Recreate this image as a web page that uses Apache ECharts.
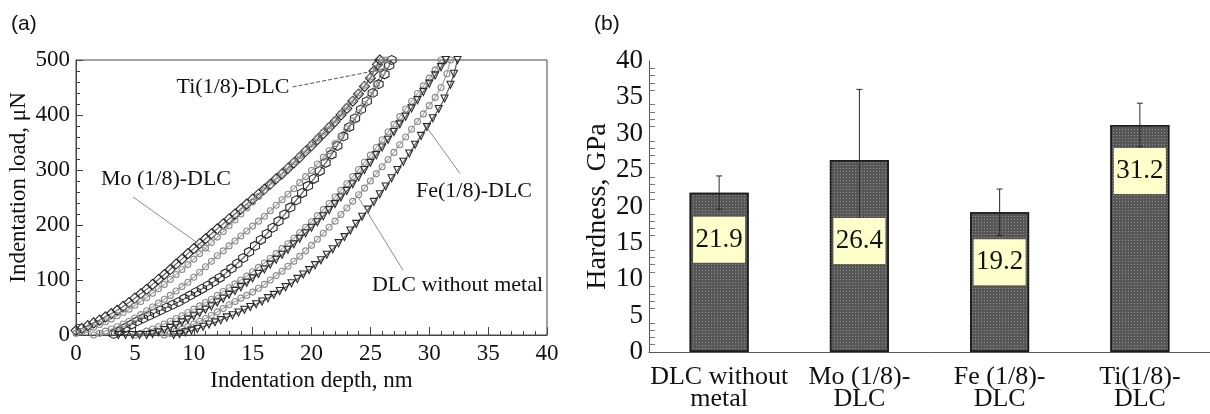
<!DOCTYPE html>
<html>
<head>
<meta charset="utf-8">
<script src="https://cdn.jsdelivr.net/npm/echarts@6/dist/echarts.min.js"></script>
<style>
  html, body { margin: 0; padding: 0; background: #ffffff; }
  #chart { width: 1210px; height: 414px; }
</style>
</head>
<body>
<div id="chart"></div>
<script>
// ---------- (a) load–depth curves: [depth nm, load µN] ----------
const moLoading = [[0,8],[0.5,12],[1,17],[1.5,22],[2,27],[2.5,33],[3,39],[3.5,45],[4,52],[4.5,59],[5,67],[5.5,75],[6,83],[6.5,92],[7,101],[7.5,110],[8,119],[8.5,129],[9,138],[9.5,148],[10,157],[10.5,166],[11,175],[11.5,184],[12,193],[12.5,202],[13,211],[13.5,220],[14,229],[14.5,238],[15,247],[15.5,256],[16,265],[16.5,274],[17,284],[17.5,293],[18,303],[18.5,313],[19,323],[19.5,334],[20,344],[20.5,355],[21,366],[21.5,377],[22,388],[22.5,400],[23,412],[23.5,425],[24,438],[24.5,452],[25,467],[25.3,480],[25.6,492],[25.8,500]];
const moUnloading = [[0,3],[0.5,6],[1,10],[1.5,14],[2,19],[2.5,24],[3,29],[3.5,35],[4,41],[4.5,47],[5,54],[5.5,61],[6,68],[6.5,76],[7,84],[7.5,92],[8,101],[8.5,110],[9,119],[9.5,128],[10,138],[10.5,148],[11,158],[11.5,168],[12,178],[12.5,188],[13,199],[13.5,209],[14,220],[14.5,231],[15,242],[15.5,252],[16,263],[16.5,273],[17,284],[17.5,294],[18,305],[18.5,315],[19,326],[19.5,336],[20,347],[20.5,358],[21,369],[21.5,380],[22,391],[22.5,403],[23,415],[23.5,427],[24,440],[24.5,454],[25,469],[25.5,485],[26,500]];
const tiLoading = [[3.2,2],[3.7,7],[4.2,13],[4.7,19],[5.2,25],[5.7,30],[6.2,35],[6.7,40],[7.2,45],[7.7,50],[8.2,55],[8.7,60],[9.2,66],[9.7,72],[10.2,78],[10.7,84],[11.2,90],[11.7,97],[12.2,104],[12.7,112],[13.2,121],[13.7,130],[14.2,140],[14.7,151],[15.2,162],[15.7,173],[16.2,184],[16.7,195],[17.2,207],[17.7,219],[18.2,232],[18.7,245],[19.2,258],[19.7,271],[20.2,284],[20.7,298],[21.2,313],[21.7,328],[22.2,344],[22.7,361],[23.2,378],[23.7,394],[24.2,410],[24.7,425],[25.2,440],[25.7,456],[26.2,474],[26.6,490],[26.8,500]];
const tiUnloading = [[1.5,0],[2,3],[2.5,7],[3,11],[3.5,15],[4,20],[4.5,25],[5,31],[5.5,37],[6,44],[6.5,51],[7,58],[7.5,65],[8,72],[8.5,80],[9,88],[9.5,96],[10,105],[10.5,114],[11,124],[11.5,134],[12,144],[12.5,153],[13,162],[13.5,171],[14,180],[14.5,189],[15,198],[15.5,207],[16,216],[16.5,226],[17,236],[17.5,246],[18,256],[18.5,266],[19,277],[19.5,288],[20,299],[20.5,311],[21,323],[21.5,335],[22,348],[22.5,361],[23,375],[23.5,389],[24,404],[24.5,419],[25,436],[25.5,455],[26,478],[26.3,500]];
const dlcLoading = [[5,0],[5.5,3],[6,7],[6.5,11],[7,15],[7.5,20],[8,25],[8.5,30],[9,35],[9.5,41],[10,47],[10.5,53],[11,59],[11.5,65],[12,72],[12.5,79],[13,86],[13.5,93],[14,100],[14.5,107],[15,115],[15.5,123],[16,131],[16.5,139],[17,148],[17.5,157],[18,166],[18.5,176],[19,186],[19.5,196],[20,206],[20.5,217],[21,228],[21.5,239],[22,251],[22.5,263],[23,275],[23.5,288],[24,301],[24.5,314],[25,327],[25.5,341],[26,355],[26.5,369],[27,383],[27.5,397],[28,411],[28.5,425],[29,439],[29.5,453],[30,467],[30.5,482],[31,500]];
const dlcUnloading = [[7.5,0],[8,3],[8.5,7],[9,11],[9.5,15],[10,20],[10.5,25],[11,30],[11.5,36],[12,42],[12.5,48],[13,55],[13.5,61],[14,67],[14.5,72],[15,78],[15.5,85],[16,92],[16.5,100],[17,108],[17.5,116],[18,125],[18.5,134],[19,143],[19.5,153],[20,163],[20.5,174],[21,185],[21.5,196],[22,207],[22.5,219],[23,231],[23.5,243],[24,255],[24.5,267],[25,280],[25.5,293],[26,306],[26.5,319],[27,332],[27.5,346],[28,360],[28.5,374],[29,388],[29.5,402],[30,417],[30.5,432],[31,450],[31.5,475],[31.8,500]];
const feLoading = [[3.6,0],[4.2,0],[4.8,0],[5.4,0],[6,0],[6.5,2],[7,5],[7.5,9],[8,13],[8.5,18],[9,23],[9.5,28],[10,34],[10.5,40],[11,46],[11.5,52],[12,59],[12.5,66],[13,73],[13.5,80],[14,87],[14.5,95],[15,103],[15.5,111],[16,119],[16.5,128],[17,137],[17.5,146],[18,155],[18.5,165],[19,175],[19.5,185],[20,195],[20.5,205],[21,216],[21.5,227],[22,238],[22.5,250],[23,262],[23.5,274],[24,287],[24.5,300],[25,313],[25.5,327],[26,341],[26.5,355],[27,369],[27.5,383],[28,397],[28.5,412],[29,427],[29.5,442],[30,457],[30.5,472],[31,487],[31.4,500]];
const feUnloading = [[8.3,0],[8.8,2],[9.3,5],[9.8,8],[10.3,11],[10.8,15],[11.3,19],[11.8,23],[12.3,27],[12.8,32],[13.3,36],[13.8,41],[14.3,46],[14.8,51],[15.3,56],[15.8,61],[16.3,67],[16.8,73],[17.3,80],[17.8,87],[18.3,94],[18.8,102],[19.3,110],[19.8,118],[20.3,127],[20.8,136],[21.3,146],[21.8,156],[22.3,167],[22.8,178],[23.3,190],[23.8,202],[24.3,215],[24.8,228],[25.3,242],[25.8,256],[26.3,270],[26.8,285],[27.3,300],[27.8,315],[28.3,330],[28.8,346],[29.3,362],[29.8,378],[30.3,394],[30.8,411],[31.3,430],[31.8,455],[32.1,475],[32.4,500]];

// curve callouts: text, anchor [depth, load], leader from / to
const calloutText = ['Ti(1/8)-DLC', 'Mo (1/8)-DLC', 'Fe(1/8)-DLC', 'DLC without metal'];
const calloutAnchor = [[13.33, 451], [7.64, 284], [33.8, 262], [32.4, 91]];
const leaderFrom = [[18.4, 451], [4.84, 251], [32.6, 294], [27.77, 118]];
const leaderTo = [[26.5, 485], [11.38, 151], [29.64, 382], [23.95, 251]];

// ---------- (b) hardness ----------
const hardnessCategories = ['DLC without\nmetal', 'Mo (1/8)-\nDLC', 'Fe (1/8)-\nDLC', 'Ti(1/8)-\nDLC'];
const hardnessValues = [21.9, 26.4, 19.2, 31.2];
const hardnessErrors = [2.3, 9.7, 3.2, 3.0];

// ---------- styling ----------
const SERIF = '"Liberation Serif", "Times New Roman", serif';
const SANS = '"Liberation Sans", Arial, sans-serif';
const TXT = '#111111';
const AXIS = '#444444';
const DARK = '#2a2a2a';
const GREY = '#8c8c8c';
const HEX = 'path://M0,-10 L8.66,-5 L8.66,5 L0,10 L-8.66,5 L-8.66,-5 Z';
// vertical drop (px) of each value box below its bar top
const LABEL_DROP = [24, 58, 27, 23];

function curve(name, data, symbol, size, color, rotate) {
  return {
    type: 'line', name, data, xAxisIndex: 0, yAxisIndex: 0,
    symbol, symbolSize: size, symbolRotate: rotate || 0, showAllSymbol: true,
    itemStyle: { color: 'rgba(255,255,255,0)', borderColor: color, borderWidth: 1.1 },
    lineStyle: { color, width: 1.2, opacity: 0.75 },
    z: 3
  };
}

const chart = echarts.init(document.getElementById('chart'), null, { renderer: 'canvas' });

const option = {
  animation: false,
  backgroundColor: '#ffffff',
  title: [
    { text: '(a)', left: 6, top: 9, textStyle: { fontFamily: SANS, fontSize: 21, fontWeight: 'normal', color: TXT } },
    { text: '(b)', left: 589, top: 9, textStyle: { fontFamily: SANS, fontSize: 21, fontWeight: 'normal', color: TXT } }
  ],
  grid: [
    { left: 76, top: 60, width: 471, height: 275, show: true, borderColor: AXIS, borderWidth: 1, backgroundColor: 'transparent' },
    { left: 649, top: 61, width: 566, height: 291 }
  ],
  xAxis: [
    {
      gridIndex: 0, type: 'value', min: 0, max: 40, interval: 5,
      name: 'Indentation depth, nm', nameLocation: 'middle', nameGap: 31,
      nameTextStyle: { fontFamily: SERIF, fontSize: 23, color: TXT },
      axisLine: { lineStyle: { color: AXIS, width: 1 } },
      axisTick: { inside: true, length: 8, lineStyle: { color: AXIS } },
      minorTick: { show: true, splitNumber: 5, length: 4, lineStyle: { color: AXIS } },
      axisLabel: { fontFamily: SERIF, fontSize: 23, color: TXT, margin: 7 },
      splitLine: { show: false }
    },
    {
      gridIndex: 1, type: 'category', data: hardnessCategories,
      axisLine: { lineStyle: { color: '#555555', width: 1 } },
      axisTick: { inside: true, length: 8, alignWithLabel: false, interval: 0, lineStyle: { color: '#555555' } },
      axisLabel: { fontFamily: SERIF, fontSize: 26, lineHeight: 22, color: TXT, margin: 14, interval: 0 },
      splitLine: { show: false }
    }
  ],
  yAxis: [
    {
      gridIndex: 0, type: 'value', min: 0, max: 500, interval: 100,
      name: 'Indentation load, \u03bcN', nameLocation: 'middle', nameGap: 46,
      nameTextStyle: { fontFamily: SERIF, fontSize: 23, color: TXT, padding: [0, 0, 0, 20] },
      axisLine: { show: true, lineStyle: { color: AXIS, width: 1 } },
      axisTick: { inside: true, length: 7, lineStyle: { color: AXIS } },
      minorTick: { show: true, splitNumber: 5, length: 4, lineStyle: { color: AXIS } },
      axisLabel: { fontFamily: SERIF, fontSize: 23, color: TXT, margin: 6 },
      splitLine: { show: false }
    },
    {
      gridIndex: 1, type: 'value', min: 0, max: 40, interval: 5,
      name: 'Hardness, GPa', nameLocation: 'middle', nameGap: 36,
      nameTextStyle: { fontFamily: SERIF, fontSize: 28, color: TXT },
      axisLine: { show: true, lineStyle: { color: '#555555', width: 1 } },
      axisTick: { inside: true, length: 12, lineStyle: { color: '#555555' } },
      minorTick: { show: true, splitNumber: 5, length: 6, lineStyle: { color: '#777777' } },
      axisLabel: { fontFamily: SERIF, fontSize: 27, color: TXT, margin: 6 },
      splitLine: { show: false }
    }
  ],
  series: [
    curve('Mo (1/8)-DLC loading', moLoading, 'diamond', 10, DARK),
    curve('Mo (1/8)-DLC unloading', moUnloading, 'circle', 6, GREY),
    curve('Ti(1/8)-DLC loading', tiLoading, HEX, 9, DARK),
    curve('Ti(1/8)-DLC unloading', tiUnloading, 'circle', 6, GREY),
    curve('DLC without metal loading', dlcLoading, 'circle', 6, GREY),
    curve('DLC without metal unloading', dlcUnloading, 'circle', 6, GREY),
    curve('Fe(1/8)-DLC loading', feLoading, 'triangle', 7, DARK, 180),
    curve('Fe(1/8)-DLC unloading', feUnloading, 'triangle', 7, DARK, 180),
    {
      type: 'scatter', name: 'callouts', xAxisIndex: 0, yAxisIndex: 0,
      symbolSize: 0, itemStyle: { color: '#000000' }, z: 5,
      data: calloutText.map((t, i) => ({ name: t, value: calloutAnchor[i] })),
      label: { show: true, position: 'inside', formatter: '{b}', fontFamily: SERIF, fontSize: 22, color: TXT, opacity: 1 },
      markLine: {
        silent: true, symbol: ['none', 'none'], label: { show: false },
        lineStyle: { color: GREY, width: 1, type: 'solid' },
        data: leaderFrom.map((p, i) => [
          { coord: p, lineStyle: i === 0 ? { color: '#555555', type: [4, 2], width: 1 } : {} },
          { coord: leaderTo[i] }
        ])
      }
    },
    {
      type: 'bar', name: 'Hardness', xAxisIndex: 1, yAxisIndex: 1,
      data: hardnessValues, barWidth: 59, z: 2,
      itemStyle: {
        color: '#575757', borderColor: '#1c1c1c', borderWidth: 1.5,
        decal: { symbol: 'rect', symbolSize: 1, color: 'rgba(210,210,210,0.45)', dashArrayX: [1, 2], dashArrayY: [1, 2], rotation: 0 }
      }
    },
    {
      type: 'custom', name: 'Hardness error', xAxisIndex: 1, yAxisIndex: 1, z: 3,
      data: hardnessValues.map((v, i) => [i, v, hardnessErrors[i]]),
      renderItem: (params, api) => {
        const i = api.value(0), v = api.value(1), e = api.value(2);
        const hi = api.coord([i, v + e]);
        const lo = api.coord([i, v - e]);
        const st = { stroke: '#2a2a2a', lineWidth: 1 };
        return {
          type: 'group',
          children: [
            { type: 'line', shape: { x1: hi[0], y1: hi[1], x2: lo[0], y2: lo[1] }, style: st },
            { type: 'line', shape: { x1: hi[0] - 3, y1: hi[1], x2: hi[0] + 3, y2: hi[1] }, style: st },
            { type: 'line', shape: { x1: lo[0] - 3, y1: lo[1], x2: lo[0] + 3, y2: lo[1] }, style: st }
          ]
        };
      }
    },
    {
      type: 'custom', name: 'Hardness value', xAxisIndex: 1, yAxisIndex: 1, z: 4,
      data: hardnessValues.map((v, i) => [i, v]),
      renderItem: (params, api) => {
        const i = api.value(0), v = api.value(1);
        const top = api.coord([i, v]);
        const y0 = top[1] + LABEL_DROP[params.dataIndex];
        return {
          type: 'group',
          children: [
            { type: 'rect', shape: { x: top[0] - 26, y: y0, width: 52, height: 46 }, style: { fill: '#ffffcc' } },
            { type: 'text', x: top[0], y: y0 + 23,
              style: { text: v.toFixed(1), fontFamily: SERIF, fontSize: 27, fill: TXT, align: 'center', verticalAlign: 'middle' } }
          ]
        };
      }
    }
  ]
};

chart.setOption(option);
</script>
</body>
</html>
